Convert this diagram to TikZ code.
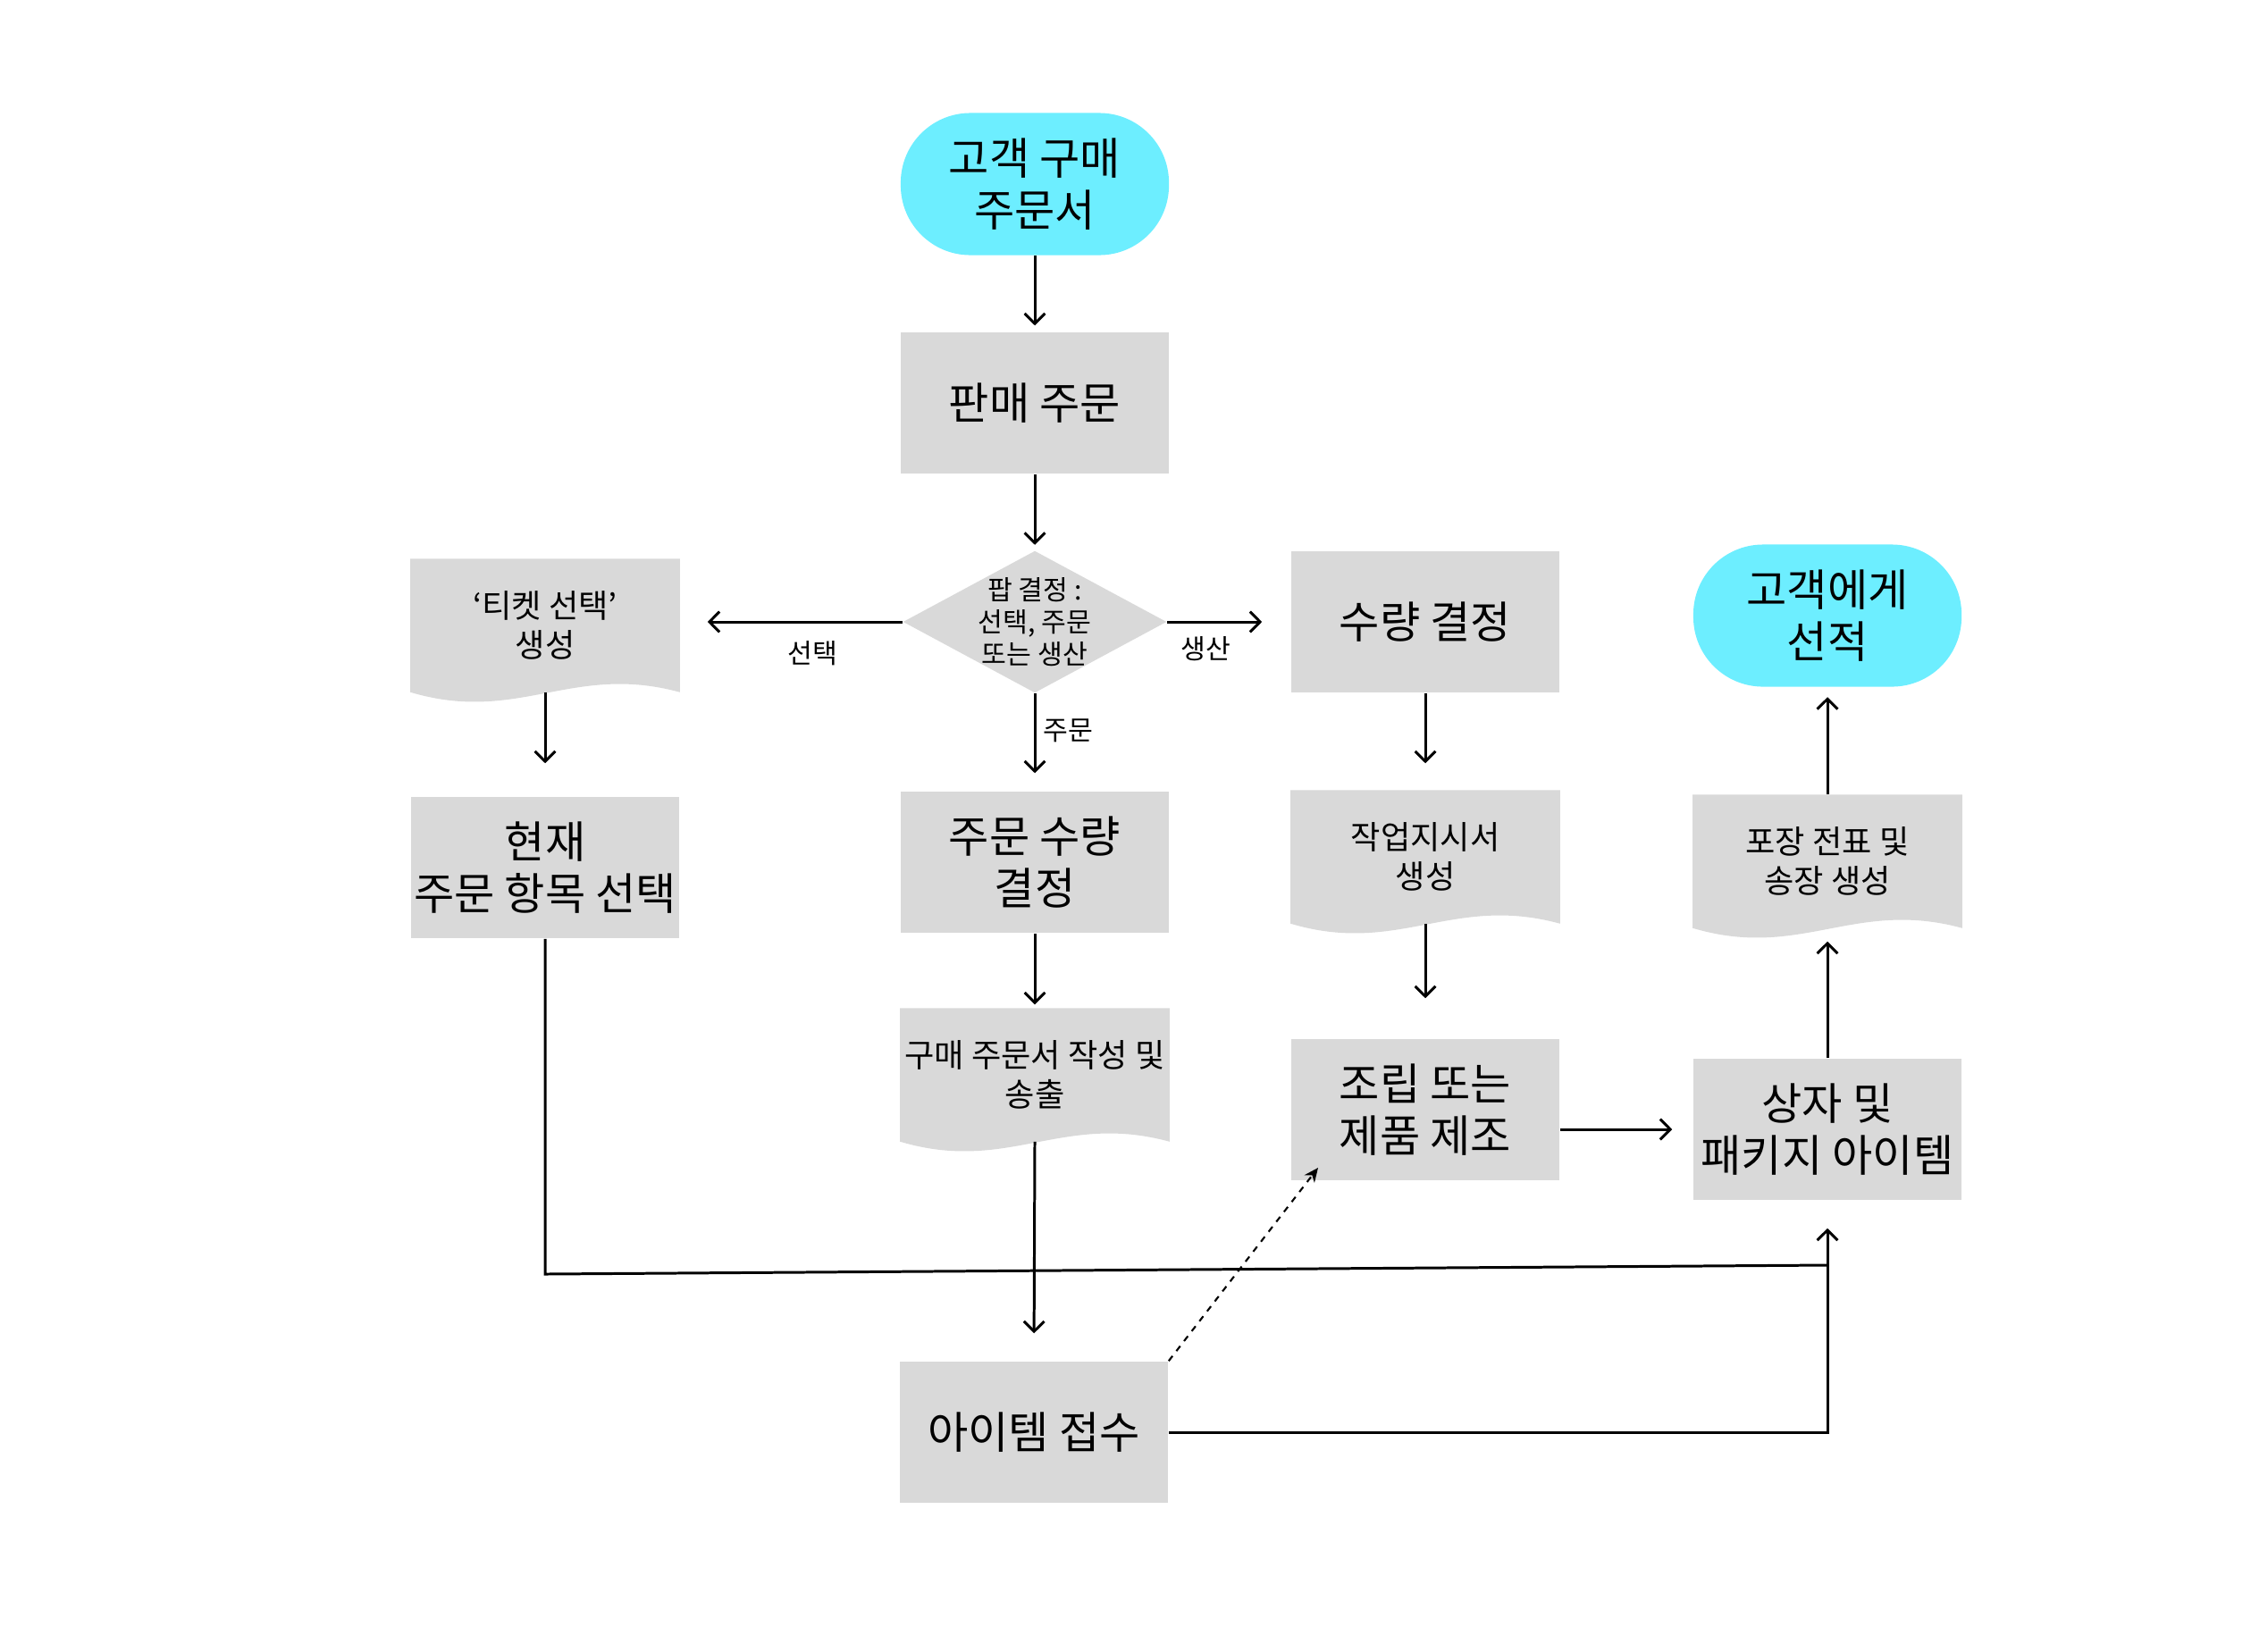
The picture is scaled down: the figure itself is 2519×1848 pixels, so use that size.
\documentclass[tikz,border=0pt]{standalone}
\usepackage{fontspec}
\setmainfont{Noto Sans CJK KR}
\usetikzlibrary{arrows.meta,shapes.geometric,backgrounds}
\definecolor{boxgray}{HTML}{D9D9D9}
\definecolor{termcyan}{HTML}{6DEEFF}
\newcommand\bigtxt{\fontsize{14}{16.6}\selectfont}
\newcommand\midtxt{\fontsize{10.3}{12.6}\selectfont}
\newcommand\smalltxt{\fontsize{8.6}{10.3}\selectfont}
\newcommand\docfill[1]{\fill[boxgray] (#1.north west) -- (#1.north east) -- (#1.south east) .. controls +(-121,-33) and +(121,36) .. (#1.south west) -- cycle;}
\tikzset{
  conn/.style={line width=0.85pt},
  arr/.style={conn,-{Straight Barb[length=3.2pt,width=6.5pt]}},
  dotarr/.style={line width=0.6pt,dash pattern=on 2pt off 2pt,-{Stealth[length=4.5pt,width=4pt]}},
  procbox/.style={rectangle,fill=boxgray,minimum width=3cm,minimum height=1.58cm,inner sep=0pt,align=center,font=\bigtxt},
  termbox/.style={rectangle,rounded corners=0.78cm,fill=termcyan,minimum width=3cm,minimum height=1.59cm,inner sep=0pt,align=center,font=\bigtxt},
  docbox/.style={rectangle,minimum width=3cm,minimum height=1.48cm,inner sep=0pt,align=center,font=\midtxt},
  decbox/.style={diamond,fill=boxgray,minimum width=2.95cm,minimum height=1.59cm,inner sep=0pt},
  lbl/.style={font=\smalltxt,inner sep=1pt}
}
\begin{document}
\begin{tikzpicture}[x=0.01cm,y=-0.01cm]
\useasboundingbox (0,0) rectangle (2519,1848);
\node[termbox] (start) at (1158,206) {고객 구매\\주문서};
\node[procbox] (sale) at (1158,451) {판매 주문};
\node[decbox,label={[font=\smalltxt,align=center]center:팝 결정 :\\선택, 주문\\또는 생산}] (dec) at (1158,696) {};
\node[docbox] (ticket) at (610,700) {‘티켓 선택’\\생성};
\node[procbox] (current) at (610,971) {현재\\주문 항목 선택};
\node[procbox] (ordqty) at (1158,965) {주문 수량\\결정};
\node[docbox] (po) at (1158,1203) {구매 주문서 작성 및\\송출};
\node[procbox] (recv) at (1157,1603) {아이템 접수};
\node[procbox] (qty) at (1595,696) {수량 결정};
\node[docbox] (wo) at (1595,959) {작업지시서\\생성};
\node[procbox] (assm) at (1595,1242) {조립 또는\\제품 제조};
\node[termbox] (ship) at (2045,689) {고객에게\\선적};
\node[docbox] (pack) at (2045,964) {포장 전표 및\\송장 생성};
\node[procbox] (box) at (2045,1264) {상자 및\\패키지 아이템};
\begin{scope}[on background layer]
\docfill{ticket}
\docfill{po}
\docfill{wo}
\docfill{pack}
\end{scope}
\node[lbl] (lsel) at (909,731) {선택};
\node[lbl] (lprod) at (1349,726) {생산};
\node[lbl,anchor=west] (lord) at (1163,818) {주문};
\coordinate (c1) at (610,1426);
\coordinate (c2) at (2045,1416);
\coordinate (dtip) at (1475,1307);
\draw[arr,shorten >=0.07cm] (start) -- (sale);
\draw[arr,shorten >=0.06cm] (sale) -- (dec);
\draw[arr,shorten >=0.31cm] (dec.west) -- (dec.west -| ticket.east);
\draw[arr,shorten >=0.32cm] (dec.east) -- (dec.east -| qty.west);
\draw[arr,shorten >=0.2cm] (dec.south) -- (ordqty.north);
\draw[arr,shorten >=0.37cm] (ticket.south) -- (current.north);
\draw[arr,shorten >=0.04cm] (ordqty.south) -- (po.north);
\draw[arr,shorten >=0.31cm] (po.south) -- (recv.north);
\draw[arr,shorten >=0.3cm] (qty.south) -- (wo.north);
\draw[arr,shorten >=0.45cm] (wo.south) -- (assm.north);
\draw[arr,shorten >=0.23cm] (assm.east |- box.west) -- (box.west);
\draw[arr,shorten >=0.15cm] (box.north) -- (pack.south);
\draw[arr,shorten >=0.11cm] (pack.north) -- (ship.south);
\draw[conn] (current.south) -- (c1) -- (c2);
\draw[arr,shorten >=0.31cm] (recv.east) -| (box.south);
\draw[dotarr] (recv.north east) -- (dtip);
\end{tikzpicture}
\end{document}
